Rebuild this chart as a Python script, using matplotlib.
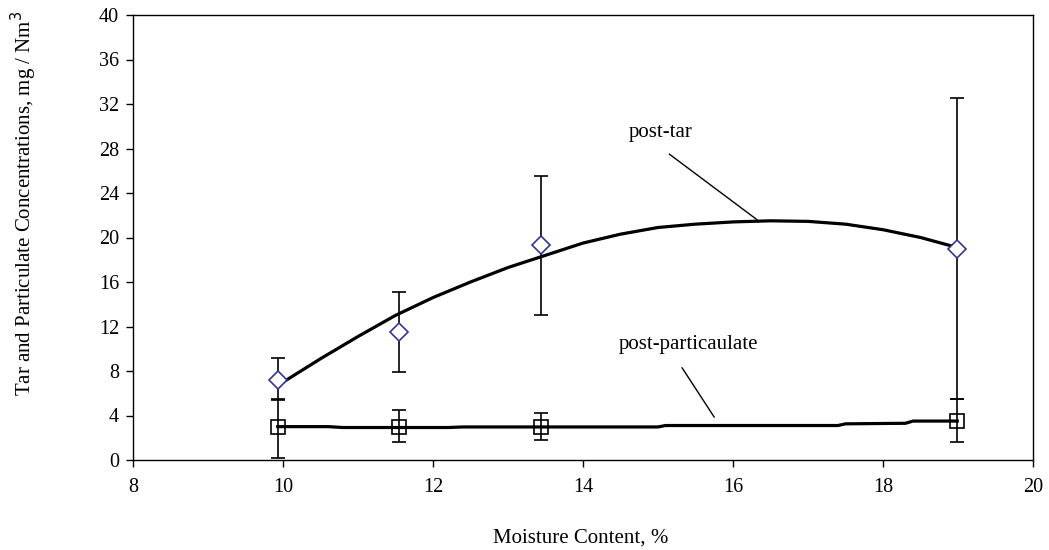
import matplotlib
matplotlib.use("Agg")
import matplotlib.pyplot as plt

# Data
moisture = [9.93, 11.55, 13.44, 18.99]
tar = [7.2, 11.5, 19.3, 19.0]
tar_err_low = [1.7, 3.6, 6.3, 13.5]
tar_err_high = [2.0, 3.6, 6.2, 13.5]
part = [3.0, 2.95, 2.95, 3.55]
part_err_low = [2.8, 1.35, 1.15, 1.95]
part_err_high = [2.4, 1.55, 1.25, 1.95]

tar_trend_x = [9.93, 10.5, 11.0, 11.5, 12.0, 12.5, 13.0, 13.5, 14.0, 14.5, 15.0,
               15.5, 16.0, 16.5, 17.0, 17.5, 18.0, 18.5, 18.99]
tar_trend_y = [6.7, 9.1, 11.1, 13.0, 14.6, 16.0, 17.3, 18.4, 19.5, 20.3, 20.9,
               21.2, 21.4, 21.5, 21.45, 21.2, 20.7, 20.0, 19.1]
part_trend_x = [9.93, 10.6, 10.8, 12.2, 12.4, 15.0, 15.1, 17.4, 17.5, 18.3, 18.4, 18.99]
part_trend_y = [3.0, 3.0, 2.92, 2.92, 2.97, 2.97, 3.1, 3.1, 3.25, 3.3, 3.5, 3.5]

xticks = [8, 10, 12, 14, 16, 18, 20]
yticks = list(range(0, 41, 4))

plt.rcParams['font.family'] = ['Liberation Serif', 'DejaVu Serif']

fig = plt.figure(figsize=(10.49, 5.5), dpi=100)
ax = fig.add_axes([133/1049, 90/550, 900/1049, 445/550])

ax.plot(tar_trend_x, tar_trend_y, color='black', lw=2.3, zorder=3)
ax.plot(part_trend_x, part_trend_y, color='black', lw=2.3, zorder=3)

ax.errorbar(moisture, tar, yerr=[tar_err_low, tar_err_high], fmt='none',
            ecolor='black', elinewidth=1.2, capsize=5, capthick=1.2, zorder=2)
ax.errorbar(moisture, part, yerr=[part_err_low, part_err_high], fmt='none',
            ecolor='black', elinewidth=1.2, capsize=5, capthick=1.2, zorder=2)

ax.plot(moisture, tar, linestyle='none', marker='D', markersize=9,
        markerfacecolor='white', markeredgecolor='#333399', markeredgewidth=1.2, zorder=4)
ax.plot(moisture, part, linestyle='none', marker='s', markersize=10,
        markerfacecolor='none', markeredgecolor='black', markeredgewidth=1.2, zorder=4)

ax.set_xlim(8, 20)
ax.set_ylim(0, 40)
ax.set_xticks(xticks)
ax.set_yticks(yticks)
ax.tick_params(direction='out', length=5, width=1, labelsize=14.5, colors='black')
ax.tick_params(axis='x', pad=8)
ax.tick_params(axis='y', pad=5)
for s in ax.spines.values():
    s.set_linewidth(1.0)
    s.set_color('black')

ax.text(15.03, 29.4, 'post-tar', ha='center', va='center', fontsize=15)
ax.annotate('', xy=(16.32, 21.6), xytext=(15.15, 27.5),
            arrowprops=dict(arrowstyle='-', color='black', lw=1.0, shrinkA=0, shrinkB=0))
ax.text(15.4, 10.4, 'post-particaulate', ha='center', va='center', fontsize=15)
ax.annotate('', xy=(15.75, 3.85), xytext=(15.32, 8.3),
            arrowprops=dict(arrowstyle='-', color='black', lw=1.0, shrinkA=0, shrinkB=0))

fig.text(24/1049, 1 - 203/550, 'Tar and Particulate Concentrations, mg / Nm$^{3}$',
         rotation=90, ha='center', va='center', fontsize=15)
fig.text(581/1049, 1 - 538/550, 'Moisture Content, %', ha='center', va='center', fontsize=15)

fig.savefig('out.png', dpi=100)
